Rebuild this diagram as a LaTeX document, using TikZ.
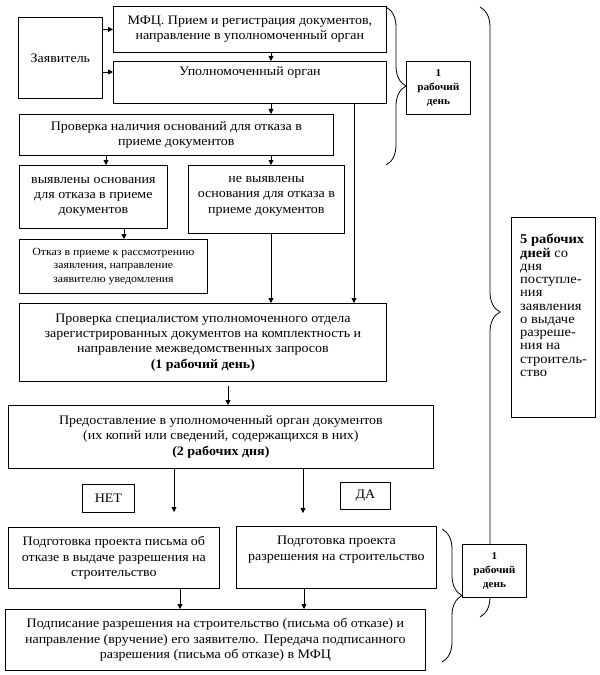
\documentclass[tikz,border=0pt]{standalone}
\usepackage{fontspec}
\setmainfont{Liberation Serif}[FakeStretch=1.08]
\usetikzlibrary{arrows.meta,decorations.pathreplacing,calc}
\newcommand\mainsz{\fontsize{13}{15.5}\selectfont}
\newcommand\smallsz{\fontsize{11}{13.3}\selectfont}
\newcommand\sidesz{\fontsize{13.5}{13.3}\selectfont}
\newcommand\daysz{\fontsize{10.5}{13.8}\selectfont\bfseries}
\begin{document}
\begin{tikzpicture}[x=1bp,y=-1bp,
  box/.style={draw, line width=0.8bp, inner sep=0pt, anchor=north west, align=center, font=\mainsz, fill=white},
  txt/.style={inner sep=0pt, anchor=north, align=center, font=\mainsz},
  arr/.style={line width=0.8bp, -{Triangle[length=5bp,width=5bp]}},
  brc/.style={line width=0.8bp, decorate, decoration={brace, amplitude=20bp}}]
\useasboundingbox (0,0) rectangle (600,675);

% braces (drawn first, boxes hide overlaps)
\coordinate (b1t) at (386,7);
\coordinate (b1b) at (386,165);
\coordinate (b2t) at (480,7);
\coordinate (b2b) at (480,617);
\coordinate (b3t) at (442,529);
\coordinate (b3b) at (442,662);
\draw[brc] (b1t) -- (b1b);
\draw[brc] (b2t) -- (b2b);
\draw[brc] (b3t) -- (b3b);

% boxes
\node[box, minimum width=84bp, minimum height=81bp] (zayav) at (18,17) {\raisebox{-4bp}{Заявитель}};
\node[box, minimum width=273bp, minimum height=46bp] (mfc) at (113,6) {МФЦ. Прием и регистрация документов,\\направление в уполномоченный орган};
\node[box, minimum width=273bp, minimum height=42bp] (upo) at (113,61) {};
\node[txt] at ($(upo.north)+(0,5)$) {Уполномоченный орган};
\node[box, minimum width=314bp, minimum height=41bp] (prov1) at (19,114) {Проверка наличия оснований для отказа в\\приеме документов};
\node[box, minimum width=148bp, minimum height=63bp] (vyyav) at (19,165) {выявлены основания\\для отказа в приеме\\документов};
\node[box, minimum width=156bp, minimum height=68bp] (nevyyav) at (188,165) {};
\node[txt] at ($(nevyyav.north)+(0,11)$) {не выявлены\\основания для отказа в\\приеме документов};
\node[box, minimum width=188bp, minimum height=54bp, font=\smallsz] (otkaz) at (19,239) {Отказ в приеме к рассмотрению\\заявления, направление\\заявителю уведомления};
\node[box, minimum width=367bp, minimum height=78bp] (prov2) at (19,303) {Проверка специалистом уполномоченного отдела\\зарегистрированных документов на комплектность и\\направление межведомственных запросов\\\textbf{(1 рабочий день)}};
\node[box, minimum width=425bp, minimum height=63bp] (pred) at (8,405) {Предоставление в уполномоченный орган документов\\(их копий или сведений, содержащихся в них)\\\textbf{(2 рабочих дня)}};
\node[box, minimum width=52bp, minimum height=28bp] (net) at (82,484) {НЕТ};
\node[box, minimum width=50bp, minimum height=27bp] (da) at (340,482) {ДА};
\node[box, minimum width=211bp, minimum height=61bp] (podgNet) at (8,527) {Подготовка проекта письма об\\отказе в выдаче разрешения на\\строительство};
\node[box, minimum width=200bp, minimum height=62bp] (podgDa) at (236,526) {};
\node[txt] at ($(podgDa.north)+(0,10)$) {Подготовка проекта\\разрешения на строительство};
\node[box, minimum width=420bp, minimum height=61bp] (final) at (5,609) {Подписание разрешения на строительство (письма об отказе) и\\направление (вручение) его заявителю. Передача подписанного\\разрешения (письма об отказе) в МФЦ};
\node[box, minimum width=64bp, minimum height=53bp, font=\daysz] (day1) at (406,61) {1\\рабочий\\день};
\node[box, minimum width=84bp, minimum height=200bp] (day5) at (511,217) {};
\node[inner sep=0pt, anchor=north west, align=left, font=\sidesz] at ($(day5.north west)+(9,17)$) {\textbf{5 рабочих}\\\textbf{дней} со\\дня\\поступле-\\ния\\заявления\\о выдаче\\разреше-\\ния на\\строитель-\\ство};
\node[box, minimum width=64bp, minimum height=53bp, font=\daysz] (day1b) at (462,544) {1\\рабочий\\день};

% x positions of connectors
\coordinate (x106) at (106,0);
\coordinate (x124) at (124,0);
\coordinate (x174) at (174,0);
\coordinate (x180) at (180,0);
\coordinate (x228) at (228,0);
\coordinate (x271) at (271,0);
\coordinate (x303) at (303,0);
\coordinate (x304) at (304,0);
\coordinate (x354) at (354,0);
\coordinate (y72) at (0,72);

% connectors
\draw[arr] (zayav.east |- mfc.west) -- (mfc.west);
\draw[arr] (zayav.east |- y72) -- (upo.west |- y72);
\draw[arr] (mfc.south -| x271) -- (upo.north -| x271);
\draw[arr] (upo.south -| x271) -- (prov1.north -| x271);
\draw[arr] (upo.south -| x354) -- (prov2.north -| x354);
\draw[arr] (prov1.south -| x106) -- (vyyav.north -| x106);
\draw[arr] (prov1.south -| x271) -- (nevyyav.north -| x271);
\draw[arr] (vyyav.south -| x124) -- (otkaz.north -| x124);
\draw[arr] (nevyyav.south -| x271) -- (prov2.north -| x271);
\draw[arr] ($(prov2.south -| x228)+(0,4)$) -- (pred.north -| x228);
\coordinate (endNet) at ($(podgNet.north -| x174)+(0,-15)$);
\coordinate (endDa) at ($(podgDa.north -| x303)+(0,-13)$);
\draw[arr] (pred.south -| x174) -- (endNet);
\draw[arr] (pred.south -| x303) -- (endDa);
\draw[arr] (podgNet.south -| x180) -- (final.north -| x180);
\draw[arr] (podgDa.south -| x304) -- (final.north -| x304);
\end{tikzpicture}
\end{document}
